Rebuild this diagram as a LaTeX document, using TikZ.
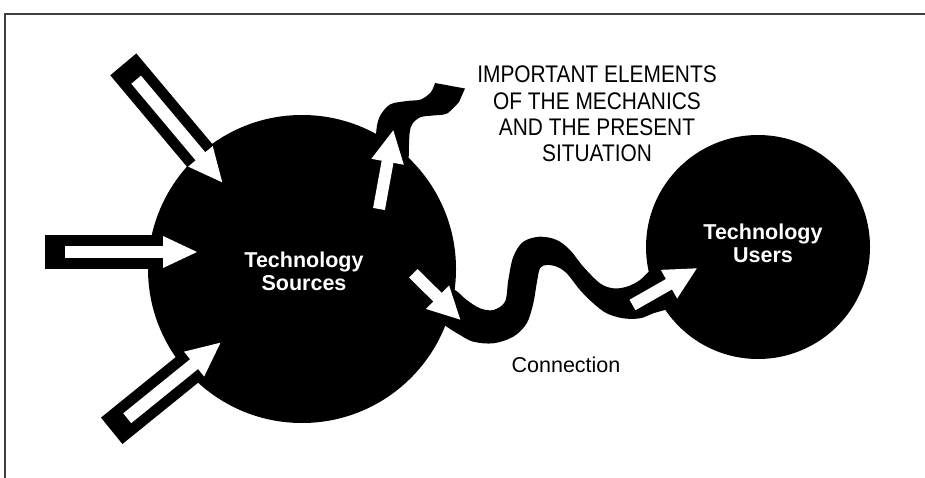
\documentclass[tikz,border=0pt]{standalone}
\usepackage{fontspec}
\setmainfont{Liberation Sans}
\newfontfamily\narrowsans[FakeStretch=0.87]{Liberation Sans}
\begin{document}
\begin{tikzpicture}[x=1pt,y=-1pt,
  hub/.style={circle,fill=black,inner sep=0pt,minimum size=#1},
  hublabel/.style={text=white,font=\fontsize{21.5}{23}\selectfont\bfseries,align=center},
  frame/.style={draw=black!75,line width=1.1pt},
  ribbon/.style={fill=black},
  % hollow feeding arrow: black bar with a white shaft and white head, drawn along +x
  pics/feedarrow/.style={code={
    \fill[black] (0,-17) rectangle (#1-34,17);
    \fill[white] (20,-6.3) rectangle (#1-33,6.3);
    \fill[white] (#1-34,-16) -- (#1,0) -- (#1-34,16) -- cycle;}},
  % plain white arrow laid over a black area
  pics/flowarrow/.style={code={
    \fill[white] (0,-6) rectangle (#1-31,6);
    \fill[white] (#1-32,-16.5) -- (#1,0) -- (#1-32,16.5) -- cycle;}}
]
\useasboundingbox (0,0) rectangle (925,478);

% open frame: left and top rules
\draw[frame] (5,478) -- (5,14) -- (925,14);

% the two hubs
\node[hub=308pt] (src) at (302,269) {};
\node[hub=224pt] (usr) at (758,247) {};

% ribbon rising out of the sources
\fill[ribbon] plot[smooth,tension=0.5] coordinates {(377,170) (376,135) (379.5,117) (390,104.5) (407,101) (421,99.5) (431,92) (435,83)}
  -- (465,88.5)
  -- plot[smooth,tension=0.5] coordinates {(459,102) (447,113.5) (433,115.5) (421,117) (413,123) (409.5,134) (408.5,170)}
  -- cycle;

% wavy connection between the hubs
\fill[ribbon] plot[smooth,tension=0.55] coordinates {(440,285) (455,290) (466.7,300) (480,308.3) (493.3,310) (505,301.7) (508.3,280) (513.3,256.7) (523.3,241.7) (540,236.7) (556.7,240) (570,250) (583.3,266.7) (600,283.3) (613.3,288.3) (626.7,286.7) (640,280) (652,268)}
  -- (670,300)
  -- plot[smooth,tension=0.55] coordinates {(665,310) (653.3,313.3) (640,318.3) (623.3,318.3) (606.7,313.3) (593.3,303.3) (580,290) (566.7,273.3) (556.7,266.7) (546.7,265) (540,268.3) (536.7,283.3) (533.3,303.3) (526.7,323.3) (513.3,336.7) (493.3,343.3) (473.3,341.7) (460,335) (446.7,326.7) (435,318)}
  -- cycle;

% feeding arrows into the sources
\pic[rotate=-50] at (123.3,64.4) {feedarrow=154};
\pic at (45,252) {feedarrow=152};
\pic[rotate=39] at (111.7,430.8) {feedarrow=140};

% arrows along the ribbons
\pic[rotate=79.7] at (379,209) {flowarrow=80};
\pic[rotate=-44.6] at (413.3,273.3) {flowarrow=66};
\pic[rotate=29.7] at (632.5,305) {flowarrow=74};

% labels
\node[hublabel] (srclabel) at (304,271) {Technology\\Sources};
\node[hublabel] (usrlabel) at (763,243) {Technology\\Users};
\node[font=\narrowsans\fontsize{24}{26.3}\selectfont,align=center] (elements) at (597,114)
  {IMPORTANT ELEMENTS\\OF THE MECHANICS\\AND THE PRESENT\\SITUATION};
\node[font=\fontsize{21.5}{24}\selectfont] (conn) at (566,365) {Connection};
\end{tikzpicture}
\end{document}
